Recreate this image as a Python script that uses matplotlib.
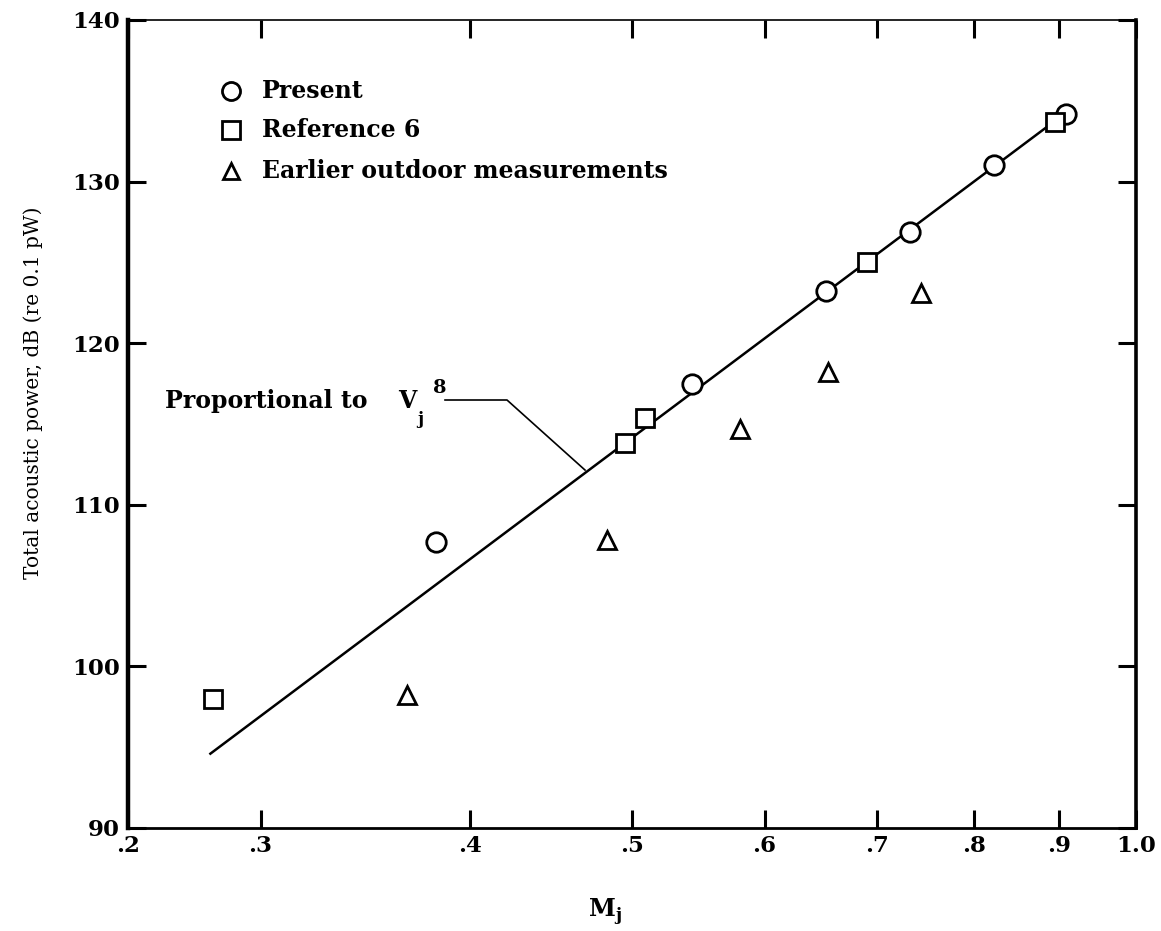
import matplotlib
matplotlib.use("Agg")
import matplotlib.pyplot as plt
from matplotlib.ticker import FixedLocator, FixedFormatter, NullLocator

plt.rcParams['font.family'] = ['DejaVu Serif']
plt.rcParams['mathtext.fontset'] = 'custom'
plt.rcParams['mathtext.rm'] = 'DejaVu Serif'
plt.rcParams['mathtext.bf'] = 'DejaVu Serif:bold'

# Jet Mach number and total acoustic power, dB re 0.1 pW
present_m = [0.382, 0.543, 0.653, 0.733, 0.823, 0.908]
present_db = [107.7, 117.5, 123.2, 126.9, 131.0, 134.2]

ref6_m = [0.281, 0.495, 0.509, 0.691, 0.895]
ref6_db = [98.0, 113.8, 115.4, 125.0, 133.7]

outdoor_m = [0.367, 0.483, 0.580, 0.655, 0.744]
outdoor_db = [98.2, 107.8, 114.7, 118.2, 123.1]

# V_j^8 scaling line (end points)
v8_m = [0.280, 0.901]
v8_db = [94.6, 134.0]

x_ticks = [0.25, 0.3, 0.4, 0.5, 0.6, 0.7, 0.8, 0.9, 1.0]
x_tick_labels = ['.2', '.3', '.4', '.5', '.6', '.7', '.8', '.9', '1.0']
y_ticks = [90, 100, 110, 120, 130, 140]

W, H = 1161, 931
fig = plt.figure(figsize=(W / 100, H / 100), dpi=100)
ax = fig.add_axes([128 / W, 1 - 828 / H, 1008 / W, 808 / H])

ax.set_xscale('log')
ax.set_xlim(0.25, 1.0)
ax.set_ylim(90, 140)

ax.plot(v8_m, v8_db, color='black', lw=1.8, zorder=2)

mk = dict(linestyle='none', markerfacecolor='white', markeredgecolor='black',
          markeredgewidth=2.0, zorder=3)
ax.plot(present_m, present_db, marker='o', markersize=14, **mk)
ax.plot(ref6_m, ref6_db, marker='s', markersize=13, **mk)
ax.plot(outdoor_m, outdoor_db, marker='^', markersize=13, **mk)

# axis formatting
ax.xaxis.set_major_locator(FixedLocator(x_ticks))
ax.xaxis.set_major_formatter(FixedFormatter(x_tick_labels))
ax.xaxis.set_minor_locator(NullLocator())
ax.set_yticks(y_ticks)
ax.set_yticklabels([str(v) for v in y_ticks])
ax.tick_params(axis='both', which='major', direction='in', length=13, width=2.2,
               top=True, right=True, labelsize=16.5, colors='black')
ax.tick_params(axis='x', pad=5)
ax.tick_params(axis='y', pad=6)
for lab in ax.get_xticklabels() + ax.get_yticklabels():
    lab.set_fontweight('bold')

ax.spines['left'].set_linewidth(3.2)
ax.spines['right'].set_linewidth(2.6)
ax.spines['bottom'].set_linewidth(2.0)
ax.spines['top'].set_linewidth(1.2)

# axis titles
fig.text(33 / W, 1 - 393 / H, 'Total acoustic power, dB (re 0.1 pW)',
         rotation=90, fontsize=14.5, ha='center', va='center')
fig.text(605 / W, 1 - 917 / H, r'M$_\mathbf{j}$', fontsize=17.5,
         fontweight='bold', ha='center', va='baseline')

# legend drawn as individual entries
legend_rows = [('o', 'Present', 0.912), ('s', 'Reference 6', 0.864),
               ('^', 'Earlier outdoor measurements', 0.813)]
for m, txt, yy in legend_rows:
    ax.plot([0.102], [yy], marker=m, markersize=13 if m != '^' else 12,
            transform=ax.transAxes, clip_on=False, **mk)
    ax.text(0.133, yy, txt, transform=ax.transAxes, fontsize=17,
            fontweight='bold', va='center', ha='left')

# V_j^8 annotation with leader line
ax.text(0.0367, 0.5285, 'Proportional to', transform=ax.transAxes,
        fontsize=17, fontweight='bold', va='center', ha='left')
ax.text(0.268, 0.5285, 'V', transform=ax.transAxes,
        fontsize=17, fontweight='bold', va='center', ha='left')
ax.text(0.2867, 0.505, 'j', transform=ax.transAxes,
        fontsize=12, fontweight='bold', va='center', ha='left')
ax.text(0.3030, 0.544, '8', transform=ax.transAxes,
        fontsize=14, fontweight='bold', va='center', ha='left')
ax.plot([0.3145, 0.376, 0.4534], [0.5297, 0.5297, 0.443], color='black',
        lw=1.2, transform=ax.transAxes, zorder=2)

fig.savefig('out.png', dpi=100)
